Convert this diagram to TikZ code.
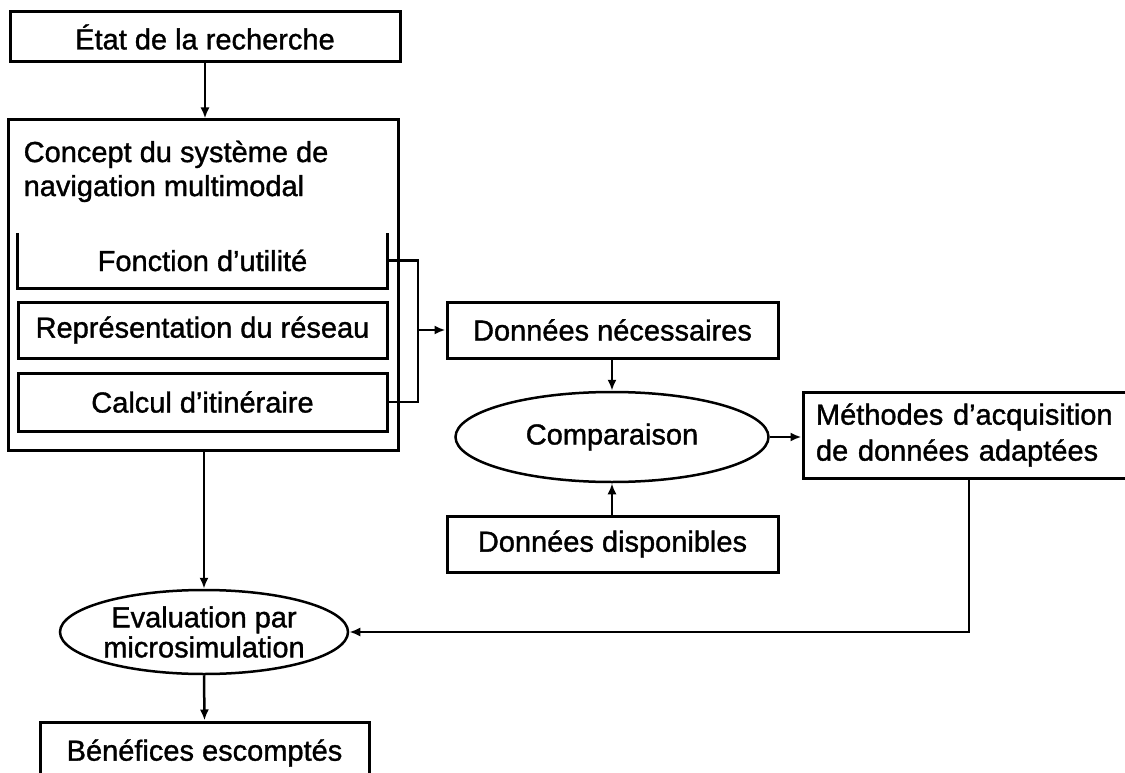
\documentclass[tikz,border=0pt]{standalone}
\usepackage{fontspec}
\setmainfont{Liberation Sans}[FakeBold = 1.2]
\usetikzlibrary{arrows.meta,shapes.geometric,positioning}

\tikzset{
	box/.style = {draw, line width = 3pt, inner sep = 0pt, align = center},
	openbox/.style = {inner sep = 0pt, align = center},
	oval/.style = {draw, ellipse, line width = 2.5pt, inner sep = 0pt, align = center},
	link/.style = {->, line width = 2.5pt},
}

\begin{document}
\begin{tikzpicture}[x = 1pt, y = -1pt, > = {Latex[length = 11pt, width = 9pt]}, font = \fontsize{29}{34}\selectfont]

	% Frame (pixel units, y downwards)
	
	\useasboundingbox (0, 0) rectangle (1125, 773);
	
	% Left column
	
	\node [box, minimum width = 390, minimum height = 50] (etat) at (205, 37) {État de la recherche};
	
	\node [box, minimum width = 390, minimum height = 330] (concept) at (203, 285) {};
	\node [anchor = north west, align = left, inner sep = 0pt] (concepttitle) at ([shift = {(17, 22)}] concept.north west) {Concept du système de\\navigation multimodal};
	
	% Components of the concept
	
	\node [openbox, minimum width = 369, minimum height = 55] (fonction) at (202.5, 260.5) {Fonction d’utilité};
	\draw [line width = 3pt] (fonction.north west) -- (fonction.south west) -- (fonction.south east) -- (fonction.north east);
	\node [box, minimum width = 369, minimum height = 56] (reseau) at (202.5, 330) {Représentation du réseau};
	\node [box, minimum width = 369, minimum height = 58] (calcul) at (202.5, 402) {Calcul d’itinéraire};
	
	% Bracket towards the data
	
	\draw [line width = 2.5pt] (fonction.east) -- ++(31, 0) coordinate (brtop) -- (brtop |- calcul.east) -- (calcul.east);
	\coordinate (brmid) at (brtop |- reseau.east);
	
	% Data column
	
	\node [box, minimum width = 331, minimum height = 56] (necess) at (612.5, 330) {Données nécessaires};
	\node [oval, minimum width = 313, minimum height = 90] (comp) at (612, 437) {Comparaison};
	\node [box, minimum width = 331, minimum height = 56] (dispo) at (612.5, 544) {Données disponibles};
	\node [box, minimum width = 332, minimum height = 86, text width = 306, align = left] (methodes) at (969, 435) {Méthodes d’acquisition\\[2pt]de données adaptées};
	
	% Evaluation
	
	\node [oval, minimum width = 288, minimum height = 84, font = \fontsize{29}{30}\selectfont] (eval) at (204, 632) {Evaluation par\\microsimulation};
	\node [box, minimum width = 329, minimum height = 62] (benef) at (204.5, 753) {Bénéfices escomptés};
	
	% Connectors
	
	\draw [link] (etat.south) -- (etat.south |- concept.north);
	\draw [link] (concept.south -| eval.north) -- (eval.north);
	\draw [link] (eval.south) -- (benef.north);
	\draw [link] (brmid) -- (necess.west);
	\draw [link] (necess.south -| comp.north) -- (comp.north);
	\draw [link] (dispo.north -| comp.south) -- (comp.south);
	\draw [link] (comp.east) -- (comp.east -| methodes.west);
	\draw [link] (methodes.south) |- (eval.east);

\end{tikzpicture}
\end{document}
